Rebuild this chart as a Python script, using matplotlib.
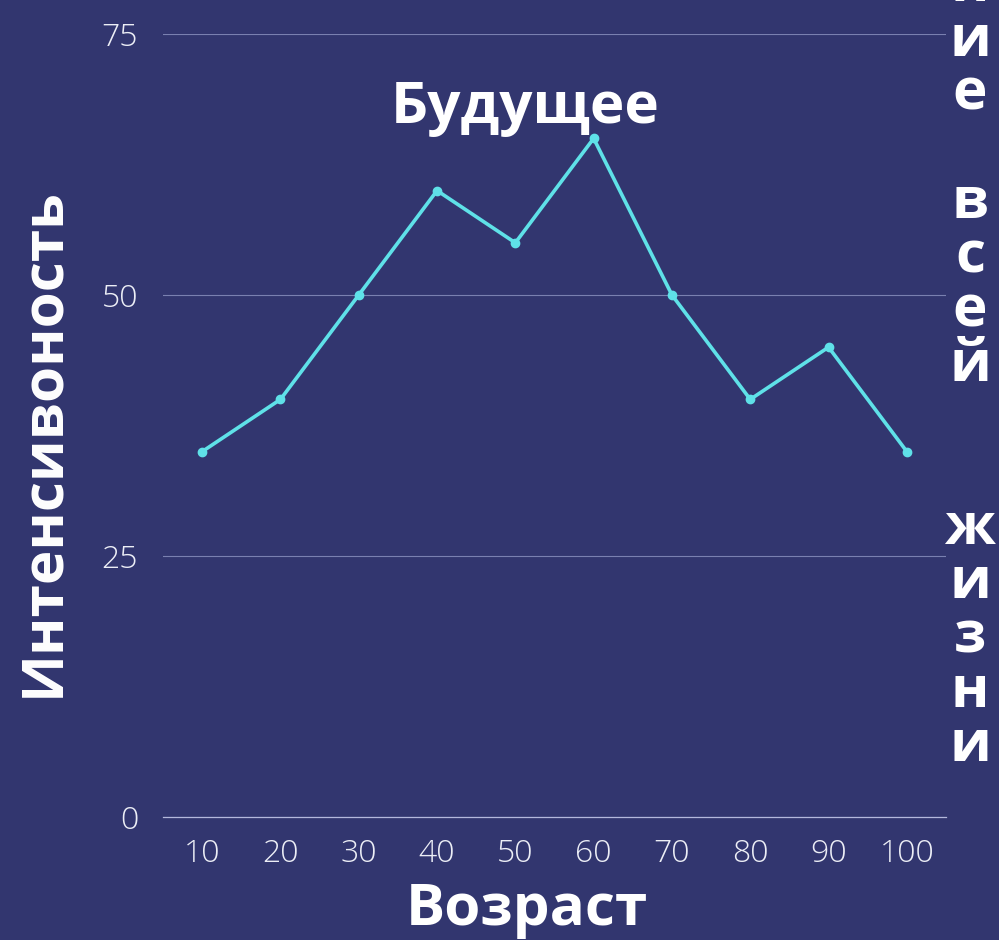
import numpy as np
import matplotlib
matplotlib.use('Agg')
import matplotlib.pyplot as plt

# data
ages = [10, 20, 30, 40, 50, 60, 70, 80, 90, 100]
intensity = [35, 40, 50, 60, 55, 65, 50, 40, 45, 35]
y_ticks = [0, 25, 50, 75]

title = 'Будущее'
x_label = 'Возраст'
y_label = 'Интенсивоность'
side_text = 'Значение всей  жизни'

bg = '#32366f'
line_col = '#5fe1e8'
tick_col = '#eceef6'
grid_col = '#7a80b0'

plt.rcParams['font.family'] = ['Open Sans', 'DejaVu Sans']

fig = plt.figure(figsize=(9.99, 9.40), dpi=100, facecolor=bg)
ax = fig.add_axes([163 / 999, 1 - 817 / 940, (946 - 163) / 999, (817 - 34) / 940])
ax.set_facecolor(bg)

ax.plot(ages, intensity, color=line_col, lw=2.6, marker='o', ms=6, zorder=3)

ax.set_xlim(5, 105)
ax.set_ylim(0, 75)
ax.set_xticks(ages)
ax.set_yticks(y_ticks)
ax.grid(axis='y', color=grid_col, lw=0.8)
ax.axhline(0, color='#b4b8dc', lw=0.9, clip_on=False, zorder=2)
ax.set_axisbelow(True)
for s in ax.spines.values():
    s.set_visible(False)
ax.tick_params(length=0, colors=tick_col, labelsize=23)
ax.tick_params(axis='x', pad=15)
ax.tick_params(axis='y', pad=18)
for lab in ax.get_xticklabels() + ax.get_yticklabels():
    lab.set_fontweight('light')

ax.set_xlabel(x_label, fontsize=42, fontweight='bold', color='white', labelpad=8)
ax.xaxis.label.set_x(0.465)
ax.set_ylabel(y_label, fontsize=42, fontweight='bold', color='white', labelpad=21)
ax.yaxis.label.set_y(0.479)

ax.text(0.462, 0.906, title, transform=ax.transAxes, ha='center', va='center',
        fontsize=42, fontweight='bold', color='white')

# vertical stacked text on the right, cut off at top
fig.text(970 / 999, 1 + 314 / 940, '\n'.join(side_text), ha='center', va='top',
         fontsize=42, fontweight='bold', color='white', linespacing=0.915)

fig.savefig('out.png', dpi=100, facecolor=bg)
